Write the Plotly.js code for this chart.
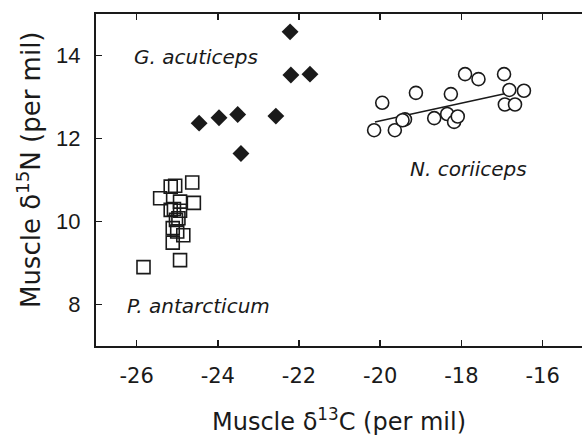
<!DOCTYPE html>
<html>
<head>
<meta charset="utf-8">
<script src="https://cdn.plot.ly/plotly-3.0.1.min.js"></script>
<style>html,body{margin:0;padding:0;background:#fff;}#chart{width:582px;height:436px;}</style>
</head>
<body>
<div id="chart"></div>
<script>
// P. antarcticum (open squares)
var pantX = [-24.63, -25.05, -25.16, -25.42, -24.93, -24.59, -25.16, -24.93, -25.03, -24.97, -25.11, -25.00, -24.85, -25.11, -24.93, -25.83, -25.08];
var pantY = [10.94, 10.86, 10.84, 10.56, 10.48, 10.45, 10.28, 10.26, 10.04, 10.08, 9.84, 9.76, 9.67, 9.49, 9.07, 8.90, 10.30];
// G. acuticeps (filled diamonds)
var gacuX = [-22.22, -22.20, -21.73, -24.46, -23.97, -23.51, -22.57, -23.43];
var gacuY = [14.57, 13.53, 13.55, 12.37, 12.50, 12.58, 12.54, 11.64];
// N. coriiceps (open circles)
var ncorX = [-20.15, -19.64, -19.95, -19.39, -19.45, -19.12, -18.67, -18.35, -18.18, -18.09, -18.26, -17.91, -17.58, -16.95, -16.82, -16.46, -16.93, -16.68];
var ncorY = [12.20, 12.20, 12.86, 12.46, 12.44, 13.10, 12.49, 12.59, 12.40, 12.53, 13.07, 13.55, 13.43, 13.55, 13.17, 13.15, 12.82, 12.82];
// regression line for N. coriiceps
var fitX = [-20.13, -16.88];
var fitY = [12.40, 13.09];
var xTicks = [-26, -24, -22, -20, -18, -16];
var yTicks = [8, 10, 12, 14];

var ink = '#1a1a1a';
var traces = [
  {x: fitX, y: fitY, mode: 'lines', line: {color: ink, width: 1.5}, showlegend: false, hoverinfo: 'skip'},
  {x: pantX, y: pantY, mode: 'markers', marker: {symbol: 'square-open', size: 13, color: ink, line: {width: 1.6, color: ink}}, showlegend: false},
  {x: gacuX, y: gacuY, mode: 'markers', marker: {symbol: 'diamond', size: 13, color: ink, line: {width: 0}}, showlegend: false},
  {x: ncorX, y: ncorY, mode: 'markers', marker: {symbol: 'circle', size: 13, color: '#ffffff', line: {width: 1.6, color: ink}}, showlegend: false}
];

var layout = {
  width: 582, height: 436,
  margin: {l: 96, r: 0, t: 14, b: 90},
  paper_bgcolor: '#fff', plot_bgcolor: '#fff',
  showlegend: false,
  xaxis: {
    range: [-27, -15.03], tickvals: xTicks, ticktext: xTicks.map(String),
    ticks: 'inside', ticklen: 6, tickwidth: 1.5, tickcolor: ink,
    showline: true, linecolor: ink, linewidth: 2, mirror: 'ticks',
    showgrid: false, zeroline: false, ticklabelstandoff: 10,
    tickfont: {family: 'DejaVu Sans', size: 21, color: ink},
    title: {text: 'Muscle δ<sup>13</sup>C (per mil)', font: {family: 'DejaVu Sans', size: 24, color: ink}, standoff: 27}
  },
  yaxis: {
    range: [7, 15], tickvals: yTicks, ticktext: yTicks.map(String),
    ticks: 'inside', ticklen: 6, tickwidth: 1.5, tickcolor: ink,
    showline: true, linecolor: ink, linewidth: 2, mirror: false,
    showgrid: false, zeroline: false, ticklabelstandoff: 9,
    tickfont: {family: 'Liberation Sans', size: 22, color: ink}
  },
  annotations: [
    {text: 'Muscle δ<sup>15</sup>N (per mil)', textangle: -90, xref: 'paper', yref: 'paper', x: 0, y: 0.53, xshift: -67, xanchor: 'center', yanchor: 'middle', showarrow: false, font: {family: 'DejaVu Sans', size: 26, color: ink}},
    {text: '<i>G. acuticeps</i>', xref: 'paper', yref: 'paper', x: 0, y: 1, xshift: 100, yshift: -43, xanchor: 'center', yanchor: 'middle', showarrow: false, font: {family: 'DejaVu Sans', size: 20, color: ink}},
    {text: '<i>N. coriiceps</i>', xref: 'paper', yref: 'paper', x: 0, y: 1, xshift: 372, yshift: -155, xanchor: 'center', yanchor: 'middle', showarrow: false, font: {family: 'DejaVu Sans', size: 20, color: ink}},
    {text: '<i>P. antarcticum</i>', xref: 'paper', yref: 'paper', x: 0, y: 1, xshift: 102, yshift: -292, xanchor: 'center', yanchor: 'middle', showarrow: false, font: {family: 'DejaVu Sans', size: 20, color: ink}}
  ]
};

Plotly.newPlot('chart', traces, layout, {displayModeBar: false, staticPlot: true});
</script>
</body>
</html>
